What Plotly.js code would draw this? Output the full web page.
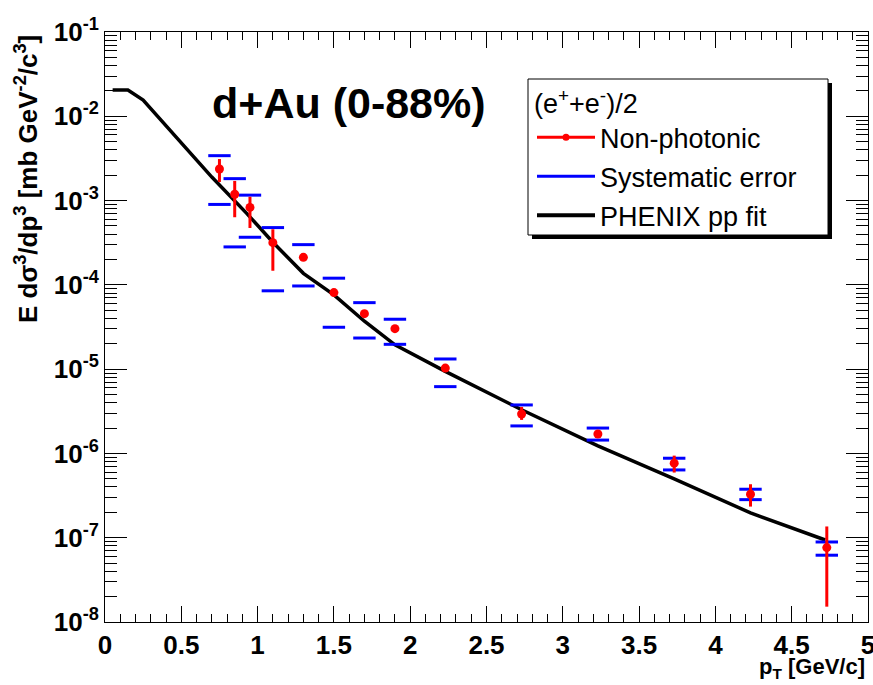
<!DOCTYPE html>
<html>
<head>
<meta charset="utf-8">
<script src="https://cdn.plot.ly/plotly-3.0.1.min.js"></script>
<style>html,body{margin:0;padding:0;background:#fff;}#chart{width:873px;height:685px;}</style>
</head>
<body>
<div id="chart"></div>
<script>
// Non-photonic electron data (d+Au 0-88%)
var pt      = [0.75, 0.85, 0.95, 1.1, 1.3, 1.5, 1.7, 1.9, 2.23, 2.73, 3.23, 3.73, 4.23, 4.73];
var yieldV  = [2.37e-3, 1.19e-3, 8.3e-4, 3.17e-4, 2.12e-4, 8.1e-5, 4.55e-5, 3.02e-5, 1.03e-5, 2.94e-6, 1.70e-6, 7.66e-7, 3.28e-7, 7.64e-8];
var statHi  = [3.11e-3, 1.71e-3, 1.11e-3, 4.57e-4, 2.25e-4, 8.6e-5, 4.85e-5, 3.2e-5, 1.1e-5, 3.56e-6, 1.85e-6, 9.42e-7, 4.31e-7, 1.36e-7];
var statLo  = [1.66e-3, 6.34e-4, 4.73e-4, 1.47e-4, 2.0e-4, 7.6e-5, 4.25e-5, 2.85e-5, 9.6e-6, 2.5e-6, 1.56e-6, 5.93e-7, 2.34e-7, 1.52e-8];
var sysHi   = [3.41e-3, 1.82e-3, 1.16e-3, 4.78e-4, 3.0e-4, 1.2e-4, 6.15e-5, 3.91e-5, 1.32e-5, 3.76e-6, 2.0e-6, 8.77e-7, 3.76e-7, 8.9e-8];
var sysLo   = [9.0e-4, 2.82e-4, 3.67e-4, 8.5e-5, 9.7e-5, 3.14e-5, 2.34e-5, 1.97e-5, 6.2e-6, 2.12e-6, 1.44e-6, 6.37e-7, 2.83e-7, 6.2e-8];
// PHENIX pp fit
var fitX = [0.05, 0.15, 0.25, 0.5, 0.7, 0.93, 1.1, 1.3, 1.5, 1.7, 1.9, 2.23, 2.73, 3.23, 3.73, 4.23, 4.72];
var fitY = [2.05e-2, 2.05e-2, 1.56e-2, 4.8e-3, 1.9e-3, 7.0e-4, 3.2e-4, 1.37e-4, 7.6e-5, 3.7e-5, 1.94e-5, 9.4e-6, 3.3e-6, 1.23e-6, 5.0e-7, 1.97e-7, 9.4e-8];
// tick labels
var yTickVals = [1e-8, 1e-7, 1e-6, 1e-5, 1e-4, 1e-3, 1e-2, 1e-1];
var yTickText = ['10<sup>-8</sup>','10<sup>-7</sup>','10<sup>-6</sup>','10<sup>-5</sup>','10<sup>-4</sup>','10<sup>-3</sup>','10<sup>-2</sup>','10<sup>-1</sup>'];
var xTickVals = [0, 0.5, 1, 1.5, 2, 2.5, 3, 3.5, 4, 4.5, 5];
var xTickText = ['0','0.5','1','1.5','2','2.5','3','3.5','4','4.5','5'];

var FONT = 'Liberation Sans, Arial, Helvetica, sans-serif';

var errPlus = yieldV.map(function(v,i){return statHi[i]-v;});
var errMinus = yieldV.map(function(v,i){return v-statLo[i];});

var traces = [
  {x: fitX, y: fitY, mode: 'lines', line: {color: '#000', width: 3.5}, showlegend: false, hoverinfo: 'skip'},
  {x: pt.concat(pt), y: sysHi.concat(sysLo), mode: 'markers',
   marker: {symbol: 'line-ew', size: 16, line: {color: '#0000ff', width: 3}}, showlegend: false},
  {x: pt, y: yieldV, mode: 'markers', marker: {color: '#ff0000', size: 9},
   error_y: {type: 'data', symmetric: false, array: errPlus, arrayminus: errMinus, color: '#ff0000', thickness: 3, width: 0},
   showlegend: false},
  // legend entries
  {x: [null], y: [null], mode: 'lines+markers', name: 'Non-photonic', line: {color: '#ff0000', width: 3}, marker: {color: '#ff0000', size: 7}, legendgroup: 'a'},
  {x: [null], y: [null], mode: 'lines', name: 'Systematic error', line: {color: '#0000ff', width: 3}, legendgroup: 'b'},
  {x: [null], y: [null], mode: 'lines', name: 'PHENIX pp fit', line: {color: '#000', width: 4}, legendgroup: 'c'}
];

function px2x(p){return (p-105)/763;}
function px2y(p){return (622-p)/590;}

var layout = {
  width: 873, height: 685,
  margin: {l: 105, r: 5, t: 32, b: 63},
  paper_bgcolor: '#fff', plot_bgcolor: '#fff',
  font: {family: FONT, color: '#000'},
  showlegend: true,
  legend: {
    x: px2x(532), y: px2y(78), xanchor: 'left', yanchor: 'top',
    bgcolor: 'rgba(0,0,0,0)', borderwidth: 0,
    font: {family: FONT, size: 27, color: '#000'},
    title: {text: '(e<sup>+</sup>+e<sup>-</sup>)/2', font: {family: FONT, size: 27, color: '#000'}},
    tracegroupgap: 1, traceorder: 'grouped', itemwidth: 58
  },
  xaxis: {
    range: [0, 5], showgrid: false, zeroline: false,
    showline: true, linecolor: '#000', linewidth: 1, mirror: 'allticks',
    ticks: 'inside', ticklen: 16, tickcolor: '#000', tickwidth: 1,
    tickvals: xTickVals, ticktext: xTickText, ticklabeloverflow: 'allow',
    tickfont: {family: FONT, size: 26, weight: 'bold'},
    minor: {ticks: 'inside', ticklen: 8, tickcolor: '#000', dtick: 0.1, showgrid: false}
  },
  yaxis: {
    type: 'log', range: [-8, -1], showgrid: false, zeroline: false,
    showline: true, linecolor: '#000', linewidth: 1, mirror: 'allticks',
    ticks: 'inside', ticklen: 22, tickcolor: '#000', tickwidth: 1,
    tickvals: yTickVals, ticktext: yTickText,
    tickfont: {family: FONT, size: 26, weight: 'bold'},
    minor: {ticks: 'inside', ticklen: 12, tickcolor: '#000', dtick: 'D1', showgrid: false}
  },
  shapes: [
    {type: 'rect', xref: 'paper', yref: 'paper', x0: px2x(532), x1: px2x(832), y0: px2y(239), y1: px2y(83),
     fillcolor: '#000', line: {width: 0}, layer: 'above'},
    {type: 'rect', xref: 'paper', yref: 'paper', x0: px2x(528), x1: px2x(828), y0: px2y(235), y1: px2y(79),
     fillcolor: '#fff', line: {color: '#000', width: 1}, layer: 'above'}
  ],
  annotations: [
    {text: '<b>d+Au (0-88%)</b>', xref: 'paper', yref: 'paper', x: px2x(349), y: px2y(103),
     xanchor: 'center', yanchor: 'middle', showarrow: false, font: {family: FONT, size: 43, color: '#000'}},
    {text: '<b>E dσ<sup>3</sup>/dp<sup>3</sup> [mb GeV<sup>-2</sup>/c<sup>3</sup>]</b>', xref: 'paper', yref: 'paper',
     x: px2x(26), y: px2y(33), xanchor: 'center', yanchor: 'top', textangle: -90, showarrow: false,
     font: {family: FONT, size: 26, color: '#000'}},
    {text: '<b>p<sub>T</sub> [GeV/c]</b>', xref: 'paper', yref: 'paper', x: px2x(867), y: px2y(668),
     xanchor: 'right', yanchor: 'middle', showarrow: false, font: {family: FONT, size: 22, color: '#000'}}
  ]
};

Plotly.newPlot('chart', traces, layout, {displayModeBar: false, staticPlot: true});
</script>
</body>
</html>
